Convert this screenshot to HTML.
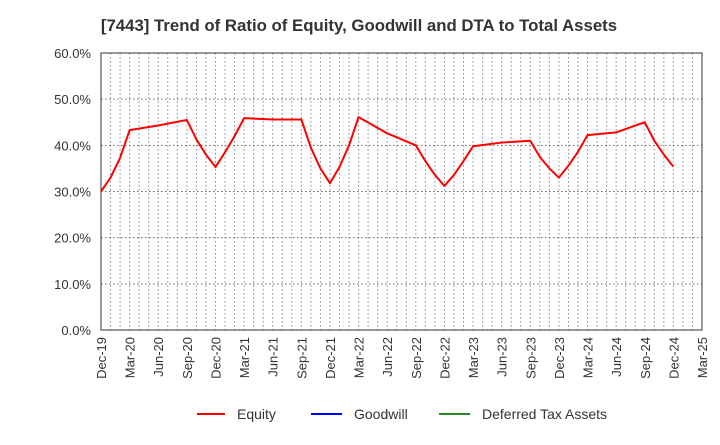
<!DOCTYPE html>
<html><head><meta charset="utf-8"><style>
body{margin:0;background:#fff;font-family:"Liberation Sans",sans-serif;}
svg text{font-family:"Liberation Sans",sans-serif;}
</style></head><body>
<svg id="c" width="720" height="440" viewBox="0 0 720 440">
<text x="359" y="31" text-anchor="middle" font-size="16.8" font-weight="bold" fill="#333">[7443]  Trend of Ratio of Equity, Goodwill and DTA to Total Assets</text>
<g id="grid"></g>
<g id="yax"></g>
<g id="xax"></g>
<g id="series"></g>
<g>
<g><line x1="197" y1="414" x2="225" y2="414" stroke="#f00" stroke-width="2"/><text x="237" y="419" font-size="14" fill="#333">Equity</text></g>
<g><line x1="311" y1="414" x2="342" y2="414" stroke="#00f" stroke-width="2"/><text x="354" y="419" font-size="14" fill="#333">Goodwill</text></g>
<g><line x1="439" y1="414" x2="470" y2="414" stroke="#228b22" stroke-width="2"/><text x="482" y="419" font-size="14" fill="#333">Deferred Tax Assets</text></g>
</g>
</svg>
<script>
const xLabels=["Dec-19","Mar-20","Jun-20","Sep-20","Dec-20","Mar-21","Jun-21","Sep-21","Dec-21","Mar-22","Jun-22","Sep-22","Dec-22","Mar-23","Jun-23","Sep-23","Dec-23","Mar-24","Jun-24","Sep-24","Dec-24","Mar-25"];
const yTicks=[0,10,20,30,40,50,60];
// month offsets from Dec-19
const equityMonths=[0,1,2,3,6,9,10,11,12,13,14,15,18,21,22,23,24,25,26,27,30,33,34,35,36,37,38,39,42,45,46,47,48,49,50,51,54,57,58,59,60];
const equityValues=[30.0,33.0,37.3,43.3,44.3,45.5,41.3,38.0,35.3,38.5,42.0,45.9,45.6,45.6,39.5,35.0,31.8,35.3,40.0,46.1,42.6,40.0,36.6,33.6,31.2,33.6,36.6,39.8,40.6,41.0,37.5,35.0,33.0,35.6,38.6,42.2,42.8,45.0,41.0,38.0,35.4];
const X0=101,X1=702,Y0=330,Y1=53,NM=63;
const sx=m=>X0+(X1-X0)*m/NM, sy=v=>Y0-(Y0-Y1)*v/60;
const ns="http://www.w3.org/2000/svg";
function mk(t,a,p){const e=document.createElementNS(ns,t);for(const k in a)e.setAttribute(k,a[k]);p.appendChild(e);return e;}
const grid=document.getElementById('grid'),yax=document.getElementById('yax'),xax=document.getElementById('xax'),ser=document.getElementById('series');
for(let m=1;m<NM;m++){const l=mk('line',{x1:sx(m),x2:sx(m),y1:Y1,y2:Y0,stroke:'#888','stroke-width':1,'stroke-dasharray':'1.5,2.5'},grid);

}
yTicks.forEach(v=>{if(v>0){const l=mk('line',{x1:X0,x2:X1,y1:sy(v),y2:sy(v),stroke:'#666','stroke-width':1,'stroke-dasharray':'1.5,2.5'},grid);

}
const t=mk('text',{x:X0-10,y:sy(v)+5,'text-anchor':'end','font-size':13,fill:'#333'},yax);t.textContent=v.toFixed(1)+'%';

});
const fr=mk('rect',{x:X0,y:Y1,width:X1-X0,height:Y0-Y1,fill:'none',stroke:'#333','stroke-width':1},grid);


xLabels.forEach((s,i)=>{const x=sx(i*3);const t=mk('text',{transform:`translate(${x+5},337) rotate(-90)`,'text-anchor':'end','font-size':13,fill:'#333'},xax);t.textContent=s;

});
const p=mk('polyline',{points:equityMonths.map((m,i)=>sx(m)+','+sy(equityValues[i])).join(' '),fill:'none',stroke:'#f00','stroke-width':2,'stroke-linejoin':'round'},ser);


</script>
</body></html>
